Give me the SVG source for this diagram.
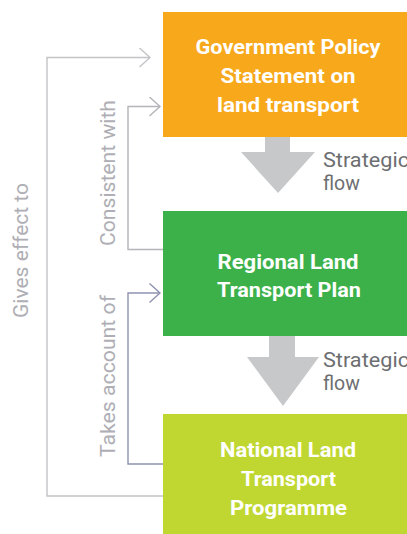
<svg xmlns="http://www.w3.org/2000/svg" width="407" height="534" viewBox="0 0 407 534">
  <style>
    .box-label { font-family: Roboto, "Liberation Sans", sans-serif; font-weight: bold; font-size: 19.5px; fill: #ffffff; text-anchor: middle; }
    .flow-label { font-family: Roboto, "Liberation Sans", sans-serif; font-size: 19.5px; fill: #6d6e71; }
    .side-label { font-family: Roboto, "Liberation Sans", sans-serif; font-size: 20.5px; fill: #aeaeb4; text-anchor: middle; }
    .flow-arrow { fill: #c7c8ca; }
    .link { fill: none; stroke-width: 1.4; }
  </style>
  <defs>
    <marker id="chevron-light" markerUnits="userSpaceOnUse" markerWidth="14" markerHeight="22" refX="12" refY="10" orient="auto">
      <path d="M1.5,0.5 L12,10 L1.5,19.5" fill="none" stroke="#c4c4c8" stroke-width="1.4"/>
    </marker>
    <marker id="chevron-mid" markerUnits="userSpaceOnUse" markerWidth="14" markerHeight="22" refX="12" refY="10" orient="auto">
      <path d="M1.5,0.5 L12,10 L1.5,19.5" fill="none" stroke="#b4b4ba" stroke-width="1.4"/>
    </marker>
    <marker id="chevron-blue" markerUnits="userSpaceOnUse" markerWidth="14" markerHeight="22" refX="12" refY="10" orient="auto">
      <path d="M1.5,0.5 L12,10 L1.5,19.5" fill="none" stroke="#8f92b0" stroke-width="1.4"/>
    </marker>
  </defs>

  <!-- Nodes -->
  <g id="gps">
    <rect x="163" y="12" width="250" height="125" fill="#f7a81b"/>
    <text class="box-label" x="288" y="54" textLength="185" lengthAdjust="spacingAndGlyphs">Government Policy</text>
    <text class="box-label" x="288" y="83" textLength="135" lengthAdjust="spacingAndGlyphs">Statement on</text>
    <text class="box-label" x="288" y="112" textLength="142" lengthAdjust="spacingAndGlyphs">land transport</text>
  </g>

  <g id="rltp">
    <rect x="163" y="211" width="250" height="125" fill="#3cb14a"/>
    <text class="box-label" x="288" y="269" textLength="141" lengthAdjust="spacingAndGlyphs">Regional Land</text>
    <text class="box-label" x="289" y="297" textLength="144" lengthAdjust="spacingAndGlyphs">Transport Plan</text>
  </g>

  <g id="nltp">
    <rect x="163" y="414" width="250" height="125" fill="#bfd730"/>
    <text class="box-label" x="288" y="457" textLength="136" lengthAdjust="spacingAndGlyphs">National Land</text>
    <text class="box-label" x="288.5" y="486" textLength="95" lengthAdjust="spacingAndGlyphs">Transport</text>
    <text class="box-label" x="288.5" y="515" textLength="117" lengthAdjust="spacingAndGlyphs">Programme</text>
  </g>

  <!-- Connectors -->
  <g id="connectors">
    <!-- strategic flow arrows -->
    <g id="flow-1">
      <polygon class="flow-arrow" points="265,137 290,137 290,152 315,152 278,193 241,152 265,152"/>
      <text class="flow-label" x="323" y="167" textLength="86" lengthAdjust="spacingAndGlyphs">Strategic</text>
      <text class="flow-label" x="323" y="190">flow</text>
    </g>
    <g id="flow-2">
      <polygon class="flow-arrow" points="269,336 295,336 295,357 319,357 283,406 247,357 269,357"/>
      <text class="flow-label" x="323" y="367" textLength="86" lengthAdjust="spacingAndGlyphs">Strategic</text>
      <text class="flow-label" x="323" y="390">flow</text>
    </g>

    <!-- NLTP gives effect to GPS -->
    <path class="link" stroke="#c4c4c8" d="M163,496 H47 V57.5 H150" marker-end="url(#chevron-light)"/>
    <text class="side-label" transform="translate(28,250.5) rotate(-90)" textLength="135" lengthAdjust="spacingAndGlyphs">Gives effect to</text>

    <!-- RLTP consistent with GPS -->
    <path class="link" stroke="#b4b4ba" d="M163,249.5 H128 V106.5 H160" marker-end="url(#chevron-mid)"/>
    <text class="side-label" transform="translate(115,173) rotate(-90)" textLength="146" lengthAdjust="spacingAndGlyphs">Consistent with</text>

    <!-- NLTP takes account of RLTP -->
    <path class="link" stroke="#8f92b0" d="M163,464 H128 V293 H160" marker-end="url(#chevron-blue)"/>
    <text class="side-label" transform="translate(115,376) rotate(-90)" textLength="162" lengthAdjust="spacingAndGlyphs">Takes account of</text>
  </g>
</svg>
